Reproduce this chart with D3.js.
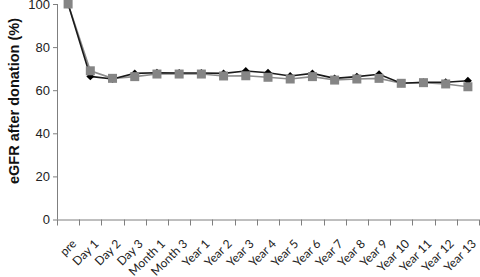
<!DOCTYPE html>
<html>
<head>
<meta charset="utf-8">
<script src="https://cdn.jsdelivr.net/npm/d3@7"></script>
<style>
  body { margin: 0; background: #fff; }
  svg { display: block; }
</style>
</head>
<body>
<div id="chart"></div>
<script>
var categories = ['pre', 'Day 1', 'Day 2', 'Day 3', 'Month 1', 'Month 3',
  'Year 1', 'Year 2', 'Year 3', 'Year 4', 'Year 5', 'Year 6', 'Year 7',
  'Year 8', 'Year 9', 'Year 10', 'Year 11', 'Year 12', 'Year 13']

// black diamonds
var seriesBlack = [100, 66.4, 65.2, 67.8, 68.1, 68.0, 68.0, 67.8, 68.9, 68.1,
  66.6, 67.8, 65.5, 66.3, 67.4, 63.2, 63.7, 63.7, 64.4]
// gray squares
var seriesGray = [100, 69.0, 65.5, 66.3, 67.5, 67.5, 67.5, 66.6, 66.7, 66.0,
  65.2, 66.3, 64.7, 65.2, 65.5, 63.2, 63.5, 62.9, 61.6]

var yTicks = [0, 20, 40, 60, 80, 100]

var width = 480, height = 277
var margin = {top: 4, right: 1, bottom: 57.5, left: 57}

var svg = d3.select('#chart').append('svg')
    .attr('width', width)
    .attr('height', height)

var x = d3.scaleBand().domain(categories).range([margin.left, width - margin.right])
var y = d3.scaleLinear().domain([0, 100]).range([height - margin.bottom, margin.top])

var axisColor = '#7f7f7f'

// y axis
var yAxis = svg.append('g')
    .attr('transform', 'translate(' + margin.left + ',0)')
    .call(d3.axisLeft(y).tickValues(yTicks).tickSize(4).tickPadding(3))
yAxis.select('.domain').attr('stroke', axisColor).attr('d', 'M0.5,' + y(0) + 'V' + y(100))
yAxis.selectAll('.tick line').attr('stroke', axisColor)
yAxis.selectAll('.tick text')
    .attr('font-family', 'Liberation Sans, Arial, sans-serif')
    .attr('font-size', 13)
    .attr('fill', '#222')

// x axis: ticks at band boundaries
var xg = svg.append('g')
xg.append('line')
    .attr('x1', margin.left).attr('x2', width - margin.right)
    .attr('y1', y(0) + 0.5).attr('y2', y(0) + 0.5)
    .attr('stroke', axisColor)
var bounds = categories.map(function(c) { return x(c) }).concat([x.range()[1]])
xg.selectAll('.xt').data(bounds).enter().append('line')
    .attr('x1', function(d) { return Math.round(d) + 0.5 })
    .attr('x2', function(d) { return Math.round(d) + 0.5 })
    .attr('y1', y(0)).attr('y2', y(0) + 6)
    .attr('stroke', axisColor)

xg.selectAll('.xl').data(categories).enter().append('text')
    .attr('transform', function(d) {
      return 'translate(' + (x(d) + x.bandwidth() / 2 + 9) + ',' + (y(0) + 25) + ') rotate(-45)'
    })
    .attr('text-anchor', 'end')
    .attr('font-family', 'Lato, Carlito, sans-serif')
    .attr('font-size', 12)
    .attr('fill', '#222')
    .text(function(d) { return d })

// y label
svg.append('text')
    .attr('transform', 'translate(19,101) rotate(-90)')
    .attr('text-anchor', 'middle')
    .attr('font-family', 'Liberation Sans, Arial, sans-serif')
    .attr('font-size', 14.5)
    .attr('font-weight', 'bold')
    .attr('fill', '#111')
    .text('eGFR after donation (%)')

var cx = function(d, i) { return x(categories[i]) + x.bandwidth() / 2 }
var line = d3.line().x(cx).y(function(d) { return y(d) })

// gray series
svg.append('path').datum(seriesGray)
    .attr('d', line).attr('fill', 'none')
    .attr('stroke', '#8c8c8c').attr('stroke-width', 1.6)

// black series
svg.append('path').datum(seriesBlack)
    .attr('d', line).attr('fill', 'none')
    .attr('stroke', '#1a1a1a').attr('stroke-width', 1.6)

svg.selectAll('.dia').data(seriesBlack).enter().append('path')
    .attr('d', d3.symbol().type(d3.symbolDiamond2).size(40))
    .attr('transform', function(d, i) { return 'translate(' + cx(d, i) + ',' + y(d) + ')' })
    .attr('fill', '#000')

svg.selectAll('.sq').data(seriesGray).enter().append('rect')
    .attr('x', function(d, i) { return cx(d, i) - 4.5 })
    .attr('y', function(d) { return y(d) - 4.5 })
    .attr('width', 9).attr('height', 9)
    .attr('fill', '#858585')
</script>
</body>
</html>
